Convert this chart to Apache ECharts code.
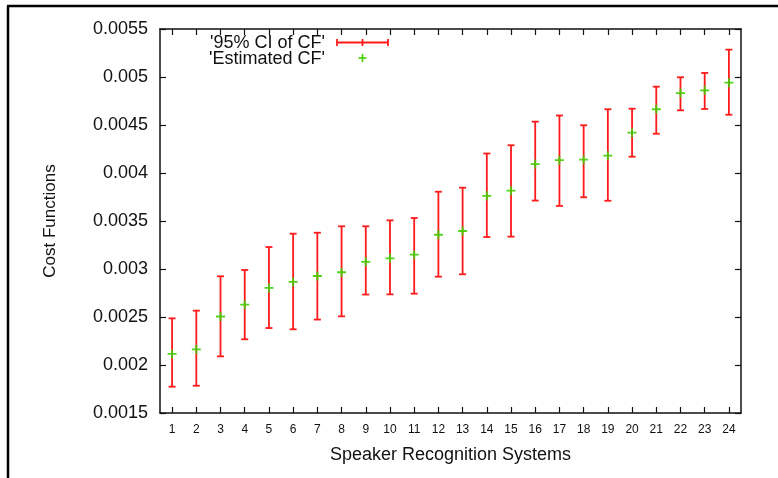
<!DOCTYPE html>
<html>
<head>
<meta charset="utf-8">
<script src="https://cdn.jsdelivr.net/npm/echarts@6/dist/echarts.min.js"></script>
<style>
  html, body { margin: 0; padding: 0; background: #fff; }
  #main { width: 778px; height: 478px; }
</style>
</head>
<body>
<div id="main"></div>
<script>
// systems 1..24
var systems = ['1','2','3','4','5','6','7','8','9','10','11','12','13','14','15','16','17','18','19','20','21','22','23','24'];
// estimated cost function
var estimatedCF = [0.002115, 0.002163, 0.002505, 0.002628, 0.002803, 0.002865, 0.002927, 0.002966,
  0.003075, 0.003111, 0.003149, 0.003357, 0.003396, 0.003762, 0.003816, 0.004093,
  0.004134, 0.004139, 0.004180, 0.004420, 0.004664, 0.004833, 0.004861, 0.004941];
// 95% CI lower / upper
var ciLow = [0.001774, 0.001784, 0.002090, 0.002268, 0.002385, 0.002372, 0.002473, 0.002507,
  0.002734, 0.002736, 0.002743, 0.002920, 0.002945, 0.003333, 0.003337, 0.003713,
  0.003657, 0.003747, 0.003711, 0.004170, 0.004409, 0.004653, 0.004667, 0.004607];
var ciHigh = [0.002486, 0.002566, 0.002924, 0.002990, 0.003229, 0.003368, 0.003378, 0.003445,
  0.003445, 0.003507, 0.003531, 0.003805, 0.003847, 0.004203, 0.004289, 0.004535,
  0.004599, 0.004497, 0.004664, 0.004670, 0.004899, 0.004997, 0.005042, 0.005285];
var yTicks = [0.0015, 0.002, 0.0025, 0.003, 0.0035, 0.004, 0.0045, 0.005, 0.0055];

var RED = '#ff1a1a';
var GREEN = '#3fd000';
var FONT = '"Liberation Sans", Arial, sans-serif';
var plusPath = 'path://M4,0h2v4h4v2h-4v4h-2v-4h-4v-2h4z';

var chart = echarts.init(document.getElementById('main'));

// error bar: vertical line plus two caps
function renderErr(params, api) {
  var i = api.value(0);
  var lo = api.coord([i, api.value(1)]);
  var hi = api.coord([i, api.value(2)]);
  var hw = 3.5;
  var st = { stroke: RED, lineWidth: 1.8 };
  return {
    type: 'group',
    children: [
      { type: 'line', shape: { x1: lo[0], y1: lo[1], x2: hi[0], y2: hi[1] }, style: st },
      { type: 'line', shape: { x1: lo[0] - hw, y1: lo[1], x2: lo[0] + hw, y2: lo[1] }, style: st },
      { type: 'line', shape: { x1: hi[0] - hw, y1: hi[1], x2: hi[0] + hw, y2: hi[1] }, style: st }
    ]
  };
}

var axisLine = { show: true, lineStyle: { color: '#111', width: 1.5 } };
var tickIn = { show: true, inside: true, length: 6, alignWithLabel: true, lineStyle: { color: '#111', width: 1.2 } };

chart.setOption({
  animation: false,
  backgroundColor: '#fff',
  grid: { left: 160, right: 37, top: 29, bottom: 65 },
  xAxis: [{
    type: 'category',
    data: systems,
    boundaryGap: true,
    position: 'bottom',
    name: 'Speaker Recognition Systems',
    nameLocation: 'middle',
    nameGap: 33,
    nameTextStyle: { fontFamily: FONT, fontSize: 18, color: '#111' },
    axisLine: axisLine,
    axisTick: tickIn,
    axisLabel: { fontFamily: FONT, fontSize: 12, color: '#111', margin: 11, interval: 0 },
    splitLine: { show: false }
  }, {
    type: 'category',
    data: systems,
    boundaryGap: true,
    position: 'top',
    axisLine: axisLine,
    axisTick: tickIn,
    axisLabel: { show: false },
    splitLine: { show: false }
  }],
  yAxis: [{
    type: 'value',
    min: yTicks[0],
    max: yTicks[yTicks.length - 1],
    interval: 0.0005,
    position: 'left',
    name: 'Cost Functions',
    nameLocation: 'middle',
    nameGap: 101,
    nameTextStyle: { fontFamily: FONT, fontSize: 17, color: '#111' },
    axisLine: axisLine,
    axisTick: { show: true, inside: true, length: 6, lineStyle: { color: '#111', width: 1.2 } },
    axisLabel: {
      fontFamily: FONT, fontSize: 18, color: '#111', margin: 12,
      formatter: function (v) { return String(+v.toFixed(4)); }
    },
    splitLine: { show: false }
  }, {
    type: 'value',
    min: yTicks[0],
    max: yTicks[yTicks.length - 1],
    interval: 0.0005,
    position: 'right',
    axisLine: axisLine,
    axisTick: { show: true, inside: true, length: 6, lineStyle: { color: '#111', width: 1.2 } },
    axisLabel: { show: false },
    splitLine: { show: false }
  }],
  series: [{
    name: "'95% CI of CF'",
    type: 'custom',
    renderItem: renderErr,
    encode: { x: 0, y: [1, 2] },
    data: systems.map(function (s, i) { return [i, ciLow[i], ciHigh[i]]; }),
    z: 2
  }, {
    name: "'Estimated CF'",
    type: 'scatter',
    symbol: plusPath,
    symbolSize: 9,
    itemStyle: { color: GREEN, opacity: 0.9 },
    data: systems.map(function (s, i) { return [i, estimatedCF[i]]; }),
    z: 3
  }],
  graphic: [
    // outer frame (left and top edges)
    { type: 'line', shape: { x1: 8, y1: 6, x2: 8, y2: 478 }, style: { stroke: '#000', lineWidth: 2.5 } },
    { type: 'line', shape: { x1: 7, y1: 6, x2: 778, y2: 6 }, style: { stroke: '#000', lineWidth: 2.5 } },
    // legend
    { type: 'text', style: { x: 325, y: 43.5, text: "'95% CI of CF'", align: 'right', verticalAlign: 'middle',
        fontFamily: FONT, fontSize: 18, fill: '#111' } },
    { type: 'text', style: { x: 325, y: 59, text: "'Estimated CF'", align: 'right', verticalAlign: 'middle',
        fontFamily: FONT, fontSize: 18, fill: '#111' } },
    { type: 'line', shape: { x1: 337, y1: 42.5, x2: 388, y2: 42.5 }, style: { stroke: RED, lineWidth: 1.8 } },
    { type: 'line', shape: { x1: 337, y1: 39, x2: 337, y2: 46 }, style: { stroke: RED, lineWidth: 1.8 } },
    { type: 'line', shape: { x1: 362.5, y1: 39, x2: 362.5, y2: 46 }, style: { stroke: RED, lineWidth: 1.8 } },
    { type: 'line', shape: { x1: 388, y1: 39, x2: 388, y2: 46 }, style: { stroke: RED, lineWidth: 1.8 } },
    { type: 'line', shape: { x1: 358.5, y1: 58, x2: 366.5, y2: 58 }, style: { stroke: GREEN, lineWidth: 1.6 } },
    { type: 'line', shape: { x1: 362.5, y1: 54, x2: 362.5, y2: 62 }, style: { stroke: GREEN, lineWidth: 1.6 } }
  ]
});
</script>
</body>
</html>
